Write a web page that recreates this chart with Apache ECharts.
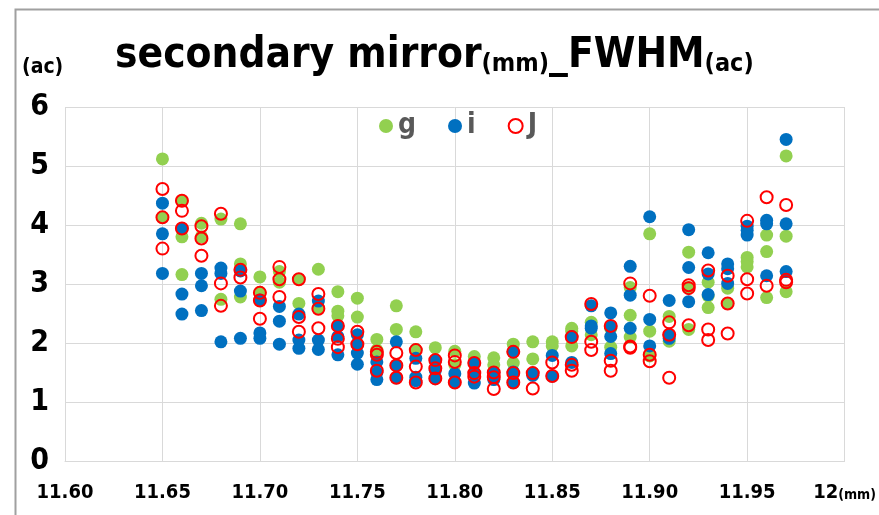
<!DOCTYPE html>
<html><head><meta charset="utf-8">
<script src="https://cdn.jsdelivr.net/npm/echarts@6/dist/echarts.min.js"></script>
<style>html,body{margin:0;padding:0;background:#fff}#c{width:879px;height:515px}</style>
</head><body><div id="c"></div>
<script>
var xs = [11.65,11.66,11.67,11.68,11.69,11.70,11.71,11.72,11.73,11.74,11.75,11.76,11.77,11.78,11.79,11.80,11.81,11.82,11.83,11.84,11.85,11.86,11.87,11.88,11.89,11.90,11.91,11.92,11.93,11.94,11.95,11.96,11.97];
var gVals = [[5.12,4.13],[4.41,3.80,3.16],[4.03,3.80],[4.10,2.74],[4.02,3.34,2.78],[3.12,2.86],[3.21,3.03],[3.08,2.67],[3.25,2.60],[2.87,2.54,2.46],[2.76,2.44],[2.06,1.88],[2.63,2.23],[2.19,1.89],[1.92],[1.86,1.63],[1.77],[1.75,1.63],[1.98,1.66],[2.02,1.73],[2.02,1.95],[2.25,2.20,1.95],[2.35,2.14],[2.25,1.93],[2.94,2.47,2.10],[3.85,2.20,1.78],[2.45,2.03],[3.54,2.94,2.23],[3.03,2.80,2.60],[2.93,2.67],[3.45,3.38,3.29],[3.83,3.55,2.77],[5.17,3.81,2.87]];
var iVals = [[4.37,3.85,3.18],[3.94,2.83,2.49],[3.18,2.97,2.55],[3.27,3.18,2.02],[3.22,2.88,2.08],[2.73,2.17,2.08],[2.62,2.37,1.98],[2.49,2.05,1.91],[2.71,2.05,1.89],[2.29,2.11,1.80],[2.14,1.97,1.83,1.64],[1.68,1.50,1.38],[2.02,1.62,1.41],[1.74,1.42,1.36],[1.70,1.54,1.40],[1.48,1.34],[1.66,1.49,1.32],[1.50,1.38],[1.85,1.51,1.33],[1.49,1.45],[1.79,1.44],[2.11,1.67],[2.63,2.29,2.25],[2.51,2.27,2.11,1.82],[3.30,2.81,2.25],[4.14,2.40,1.95],[2.72,2.14,2.08],[3.92,3.28,2.70],[3.53,3.17,2.82],[3.34,3.26,3.01],[3.98,3.91,3.83],[4.08,4.02,3.14],[5.45,4.02,3.21]];
var jVals = [[4.61,4.13,3.60],[4.41,4.24,3.94],[3.98,3.77,3.48],[4.19,3.01,2.63],[3.24,3.11],[2.85,2.72,2.41],[3.29,3.08,2.78],[3.08,2.44,2.19],[2.83,2.58,2.25],[2.29,2.07,1.93],[2.19,1.98],[1.85,1.80,1.53],[1.83,1.62,1.41],[1.88,1.60,1.33],[1.71,1.57,1.40],[1.79,1.68,1.33],[1.66,1.49,1.43],[1.50,1.42,1.22],[1.85,1.49,1.33],[1.49,1.23],[1.67,1.44],[2.10,1.63,1.53],[2.66,2.02,1.88],[2.29,1.70,1.53],[3.01,1.94,1.92],[2.80,1.80,1.69],[2.35,2.14,1.41],[2.98,2.93,2.30],[3.23,2.23,2.05],[3.14,2.67,2.16],[4.07,3.08,2.84],[4.47,2.97],[4.34,3.07,3.03]];
var seriesNames = ['g','i','J'];
var xTicks = [11.60,11.65,11.70,11.75,11.80,11.85,11.90,11.95,12];

function pairs(vals){var out=[];for(var k=0;k<xs.length;k++){for(var m=0;m<vals[k].length;m++){out.push([xs[k],vals[k][m]]);}}return out;}

var FONT = '"Liberation Sans Narrow","DejaVu Sans Condensed","Liberation Sans",sans-serif';
var chart = echarts.init(document.getElementById('c'));
chart.setOption({
  animation:false,
  backgroundColor:'#fff',
  title:{
    left:110, top:26,
    text:'{a|secondary mirror}{b|(mm)}{a|_FWHM}{b|(ac)}',
    textStyle:{rich:{
      a:{fontFamily:FONT,fontWeight:'bold',fontSize:42,color:'#000',verticalAlign:'bottom',lineHeight:46},
      b:{fontFamily:FONT,fontWeight:'bold',fontSize:25,color:'#000',verticalAlign:'bottom',lineHeight:40}
    }}
  },
  legend:{
    top:107, left:374, itemGap:32, itemWidth:14, itemHeight:14,
    textStyle:{fontFamily:FONT,fontWeight:'bold',fontSize:28,color:'#595959'},
    data:seriesNames
  },
  graphic:[
    {type:'rect',left:13,top:7,shape:{width:900,height:560},style:{fill:'none',stroke:'#a0a0a0',lineWidth:2},silent:true,z:-1},
    {type:'text',left:22,top:57,style:{text:'(ac)',font:'bold 21px '+FONT,fill:'#000'}}
  ],
  grid:{left:65,right:32,top:107,bottom:54},
  xAxis:{
    type:'value',min:11.6,max:12,interval:0.05,
    axisLine:{show:true,lineStyle:{color:'#d9d9d9',width:1}},
    axisTick:{show:false},
    splitLine:{show:true,lineStyle:{color:'#d9d9d9',width:1}},
    axisLabel:{margin:22,fontFamily:FONT,fontWeight:'bold',fontSize:20,color:'#000',
      formatter:function(v){var t=null;for(var q=0;q<xTicks.length;q++){if(Math.abs(xTicks[q]-v)<1e-6)t=xTicks[q];}
        if(t===null)return ''; if(t===12) return '12{u|(mm)}'; return t.toFixed(2);},
      rich:{u:{fontFamily:FONT,fontWeight:'bold',fontSize:14,color:'#000',verticalAlign:'bottom',padding:[0,0,1,0]}}
    }
  },
  yAxis:{
    type:'value',min:0,max:6,interval:1,
    axisLine:{show:false},axisTick:{show:false},
    splitLine:{show:true,lineStyle:{color:'#d9d9d9',width:1}},
    axisLabel:{margin:16,fontFamily:FONT,fontWeight:'bold',fontSize:30,color:'#000'}
  },
  series:[
    {name:'g',type:'scatter',symbol:'circle',symbolSize:13,itemStyle:{color:'#92D050',opacity:1},data:pairs(gVals)},
    {name:'i',type:'scatter',symbol:'circle',symbolSize:13,itemStyle:{color:'#0070C0',opacity:1},data:pairs(iVals)},
    {name:'J',type:'scatter',symbol:'circle',symbolSize:12,itemStyle:{color:'rgba(255,255,255,0)',borderColor:'#FF0000',borderWidth:2,opacity:1},data:pairs(jVals)}
  ]
});
</script></body></html>
